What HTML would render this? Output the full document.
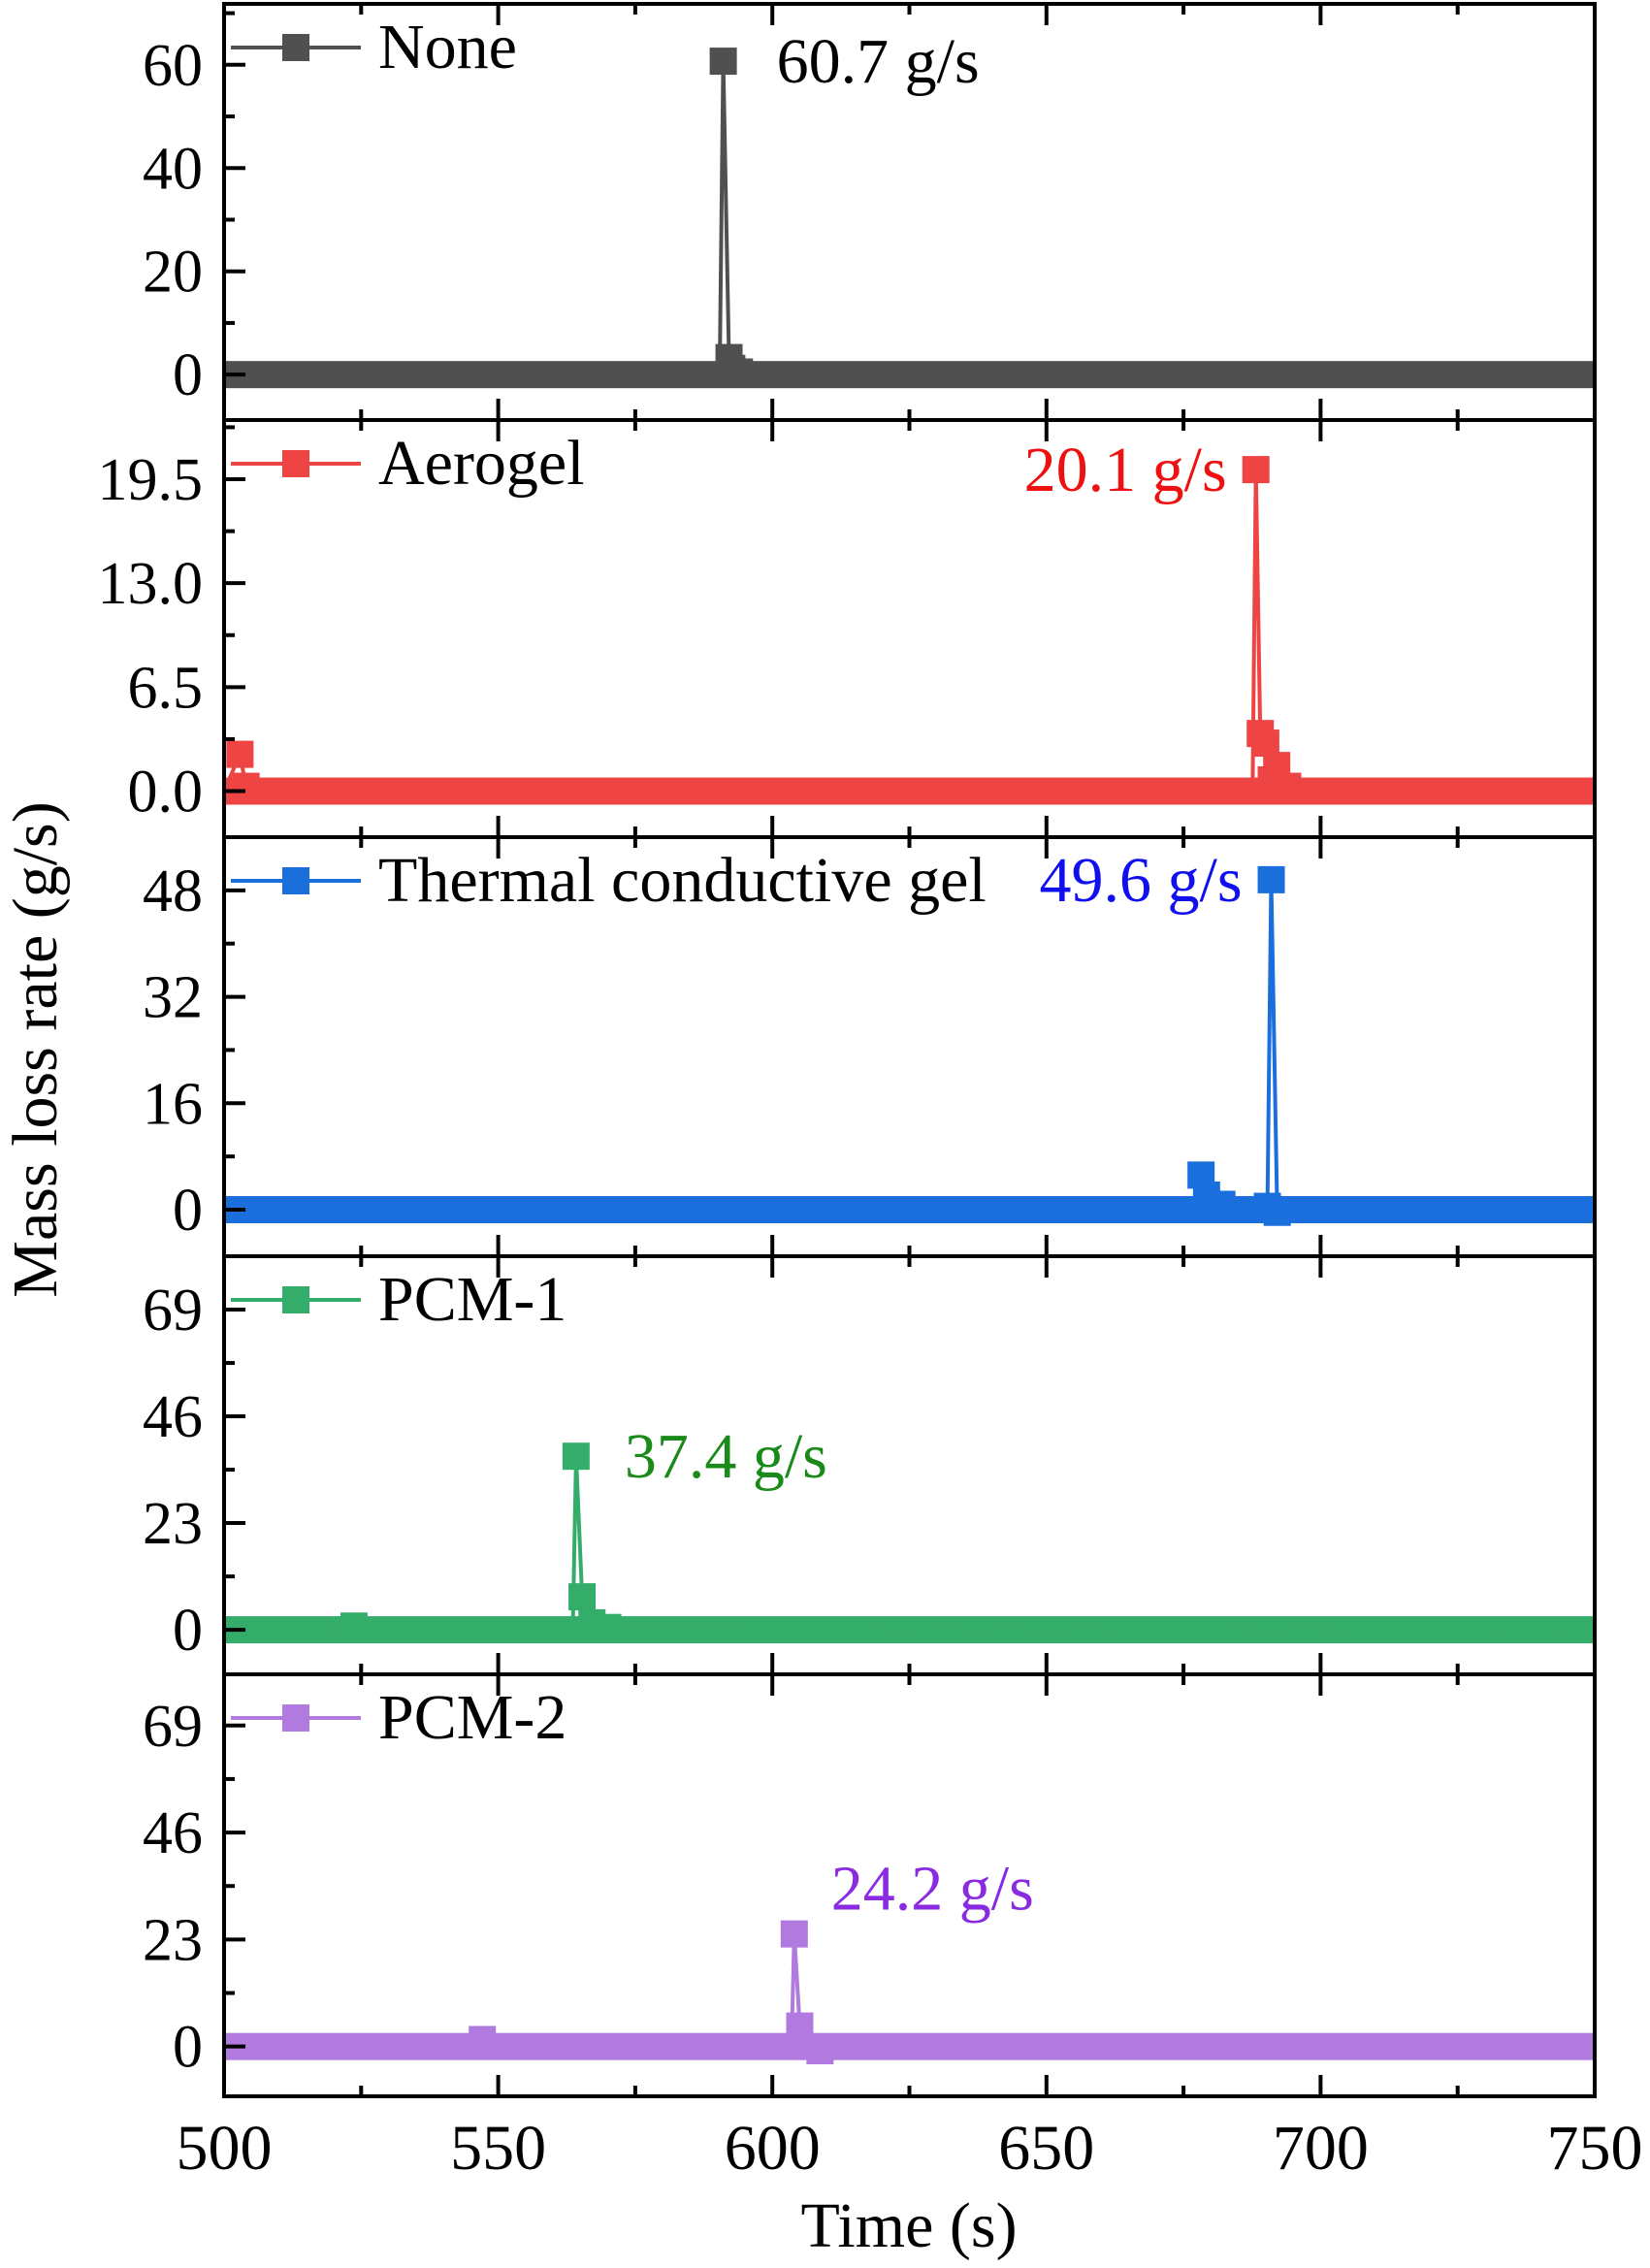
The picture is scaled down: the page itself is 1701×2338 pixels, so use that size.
<!DOCTYPE html>
<html><head><meta charset="utf-8"><style>
html,body{margin:0;padding:0;background:#fff;}
svg{display:block;font-family:"Liberation Serif",serif;}
</style></head><body>
<svg id="chart" width="1701" height="2338" viewBox="0 0 1701 2338" xmlns="http://www.w3.org/2000/svg"></svg>
<script>
const seriesNames = ["None","Aerogel","Thermal conductive gel","PCM-1","PCM-2"];
const seriesColors = ["#505050","#ee4444","#1a6fdd","#35ad6a","#b07ade"];
const labelColors = ["#000000","#ee1111","#1010ee","#1a8a1a","#8a2be2"];
const peakLabels = ["60.7 g/s","20.1 g/s","49.6 g/s","37.4 g/s","24.2 g/s"];
const tNone = [500,590.4,591.05,592.1,592.6,594,600,750];
const vNone = [0,0,60.7,3.3,1.2,0.5,0.2,0];
const tAero = [500,502.9,504,687.6,688.2,689,690,691,692,694,750];
const vAero = [0,2.3,0.3,0,20.1,3.6,3.0,0.7,1.6,0.3,0];
const tTherm = [500,677.5,678.2,679.2,682,690.3,691.0,692.1,693,750];
const vTherm = [0,0,5.2,2.2,0.8,0.5,49.6,-0.4,0,0];
const tPcm1 = [500,523.7,526,563.6,564.2,565.3,567.1,570,750];
const vPcm1 = [0,0.8,0.2,0,37.4,7.1,1.5,0.5,0];
const tPcm2 = [500,547.1,549,603.5,604.0,605.0,608.7,611,750];
const vPcm2 = [0,1.5,0,0,24.2,4.4,-0.9,0,0];
const seriesT = [tNone,tAero,tTherm,tPcm1,tPcm2];
const seriesV = [vNone,vAero,vTherm,vPcm1,vPcm2];
const yMins = [-8.8,-2.88,-7.0,-9.6,-10.7];
const yMaxs = [71.8,23.2,56.0,80.5,80.0];
const yTicks = [[0,20,40,60],[0,6.5,13,19.5],[0,16,32,48],[0,23,46,69],[0,23,46,69]];
const yTickLabels = [["0","20","40","60"],["0.0","6.5","13.0","19.5"],["0","16","32","48"],["0","23","46","69"],["0","23","46","69"]];
const peakLabelT = [591.05,688.2,691.0,564.2,604.0];
const peakLabelV = [60.7,20.1,49.6,37.4,24.2];
const xTicks = [500,550,600,650,700,750];

const svg = document.getElementById('chart');
const NS = "http://www.w3.org/2000/svg";
const L = 231, R = 1644;
const panelTops = [4,433,863,1295,1726];
const panelBots = [433,863,1295,1726,2161];
const labelDx = [55,-30,-30,50,38];
const labelDy = [0,0,0,0,-47];
function xs(t){return L + (t-500)/(750-500)*(R-L);}
function mk(tag, attrs, parent){const e=document.createElementNS(NS,tag);for(const k in attrs)e.setAttribute(k,attrs[k]);(parent||svg).appendChild(e);return e;}

for(let p=0;p<5;p++){
  const top=panelTops[p], bot=panelBots[p], mn=yMins[p], mx=yMaxs[p];
  const ys = v => bot - (v-mn)/(mx-mn)*(bot-top);
  const g = mk('g',{});
  
  
  const col = seriesColors[p];
  const T = seriesT[p], V = seriesV[p];
  const band = mk('rect',{x:xs(T[0]),y:ys(0)-14,width:xs(T[T.length-1])-xs(T[0]),height:28,fill:col},g);
  
  
  let d='';
  T.forEach((t,i)=>{d+=(i?'L':'M')+xs(t).toFixed(1)+' '+ys(V[i]).toFixed(1);});
  const line = mk('path',{d:d,fill:'none',stroke:col,'stroke-width':4},g);
  
  
  T.forEach((t,i)=>{
    if(Math.abs(V[i])<0.25) return;
    const m = mk('rect',{x:xs(t)-14,y:ys(V[i])-14,width:28,height:28,fill:col},g);
    
    
  });
  const fr = mk('rect',{x:L,y:top,width:R-L,height:bot-top,fill:'none',stroke:'#000','stroke-width':4},g);
  
  
  for(let t=500;t<=750;t+=25){
    const major = (t%50===0); const len = major?22:11; const x=xs(t);
    mk('line',{x1:x,y1:bot,x2:x,y2:bot-len,stroke:'#000','stroke-width':4},g);
    mk('line',{x1:x,y1:top,x2:x,y2:top+len,stroke:'#000','stroke-width':4},g);
  }
  const tk = yTicks[p]; const step = tk[1]-tk[0];
  for(let v=tk[0]; v<=mx; v+=step/2){
    const y=ys(v); if(y<top+2) break;
    const major = Math.abs(((v-tk[0])/step)-Math.round((v-tk[0])/step))<1e-6;
    mk('line',{x1:L,y1:y,x2:L+(major?22:11),y2:y,stroke:'#000','stroke-width':4},g);
  }
  tk.forEach((v,i)=>{
    const tl = mk('text',{x:209,y:ys(v)+21,'text-anchor':'end','font-size':62,fill:'#000'},g);
    tl.textContent = yTickLabels[p][i];
    
    
  });
  const lg = mk('g',{},g);
  
  
  const ly = top+45;
  mk('line',{x1:238,y1:ly,x2:372,y2:ly,stroke:col,'stroke-width':4},lg);
  mk('rect',{x:291,y:ly-14,width:28,height:28,fill:col},lg);
  const lt = mk('text',{x:390,y:ly+21,'font-size':66,fill:'#000'},lg);
  lt.textContent = seriesNames[p];
  const pl = mk('text',{x:xs(peakLabelT[p])+labelDx[p],y:ys(peakLabelV[p])+22+labelDy[p],'font-size':66,fill:labelColors[p],'text-anchor':labelDx[p]>0?'start':'end'},g);
  pl.textContent = peakLabels[p];
  
  
}
xTicks.forEach(t=>{
  const xl = mk('text',{x:xs(t),y:2236,'text-anchor':'middle','font-size':66,fill:'#000'});
  xl.textContent = String(t);
  
  
});
const xt = mk('text',{x:937,y:2316,'text-anchor':'middle','font-size':66,fill:'#000'});
xt.textContent='Time (s)';


const yt = mk('text',{x:0,y:0,'text-anchor':'middle','font-size':66,fill:'#000',transform:'translate(58,1082) rotate(-90)'});
yt.textContent='Mass loss rate (g/s)';


</script>
</body></html>
